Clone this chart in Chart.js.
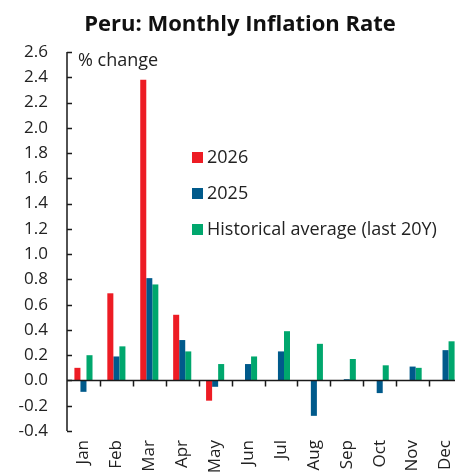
<!DOCTYPE html>
<html>
<head>
<meta charset="utf-8">
<script src="https://cdn.jsdelivr.net/npm/chart.js@4/dist/chart.umd.min.js"></script>
<style>
  html, body { margin: 0; padding: 0; background: #fff; overflow: hidden; }
  #wrap { width: 480px; height: 490px; }
</style>
</head>
<body>
<div id="wrap"><canvas id="inflChart" width="480" height="490"></canvas></div>
<script>
// data (% m/m)
var months = ['Jan', 'Feb', 'Mar', 'Apr', 'May', 'Jun', 'Jul', 'Aug', 'Sep', 'Oct', 'Nov', 'Dec'];
var infl2026 = [0.10, 0.69, 2.38, 0.52, -0.16, null, null, null, null, null, null, null];
var infl2025 = [-0.09, 0.19, 0.81, 0.32, -0.05, 0.13, 0.23, -0.28, 0.01, -0.10, 0.11, 0.24];
var histAvg = [0.20, 0.27, 0.76, 0.23, 0.13, 0.19, 0.39, 0.29, 0.17, 0.12, 0.10, 0.31];
var seriesNames = ['2026', '2025', 'Historical average (last 20Y)'];

var FONT = "'Open Sans', 'Noto Sans', sans-serif";
var TXT = '#222222';

// axis lines + inward ticks, zero line, legend and unit label
var decoPlugin = {
    id: 'deco',
    afterDatasetsDraw: function (chart) {
        var ctx = chart.ctx;
        var area = chart.chartArea;
        var y = chart.scales.y;
        var x = chart.scales.x;
        ctx.save();
        ctx.strokeStyle = '#1a1a1a';
        ctx.lineWidth = 1.5;

        // y axis line with ticks pointing into the plot
        ctx.beginPath();
        ctx.moveTo(area.left, y.getPixelForValue(y.max));
        ctx.lineTo(area.left, y.getPixelForValue(y.min));
        y.ticks.forEach(function (t) {
            var py = Math.round(y.getPixelForValue(t.value)) + 0.5;
            ctx.moveTo(area.left, py);
            ctx.lineTo(area.left + 5, py);
        });
        ctx.stroke();

        // zero line with category ticks pointing down
        var y0 = y.getPixelForValue(0);
        ctx.beginPath();
        ctx.moveTo(area.left, y0);
        ctx.lineTo(area.right, y0);
        for (var i = 0; i < months.length - 1; i++) {
            var bx = Math.round((x.getPixelForTick(i) + x.getPixelForTick(i + 1)) / 2) + 0.5;
            ctx.moveTo(bx, y0);
            ctx.lineTo(bx, y0 + 6);
        }
        ctx.stroke();

        // unit label
        ctx.fillStyle = TXT;
        ctx.font = '18px ' + FONT;
        ctx.textBaseline = 'middle';
        ctx.textAlign = 'left';
        ctx.fillText('% change', area.left + 11, 61);

        // legend
        chart.data.datasets.forEach(function (ds, k) {
            var ly = 157 + k * 36;
            ctx.fillStyle = ds.backgroundColor;
            ctx.fillRect(192, ly - 5, 11, 11);
            ctx.fillStyle = TXT;
            ctx.fillText(ds.label, 207, ly + 1);
        });
        ctx.restore();
    }
};

var chartCtx = document.getElementById('inflChart').getContext('2d');
var inflChart = new Chart(chartCtx, {
    type: 'bar',
    data: {
        labels: months,
        datasets: [
            { label: seriesNames[0], data: infl2026, backgroundColor: '#ED1C24' },
            { label: seriesNames[1], data: infl2025, backgroundColor: '#005A8B' },
            { label: seriesNames[2], data: histAvg, backgroundColor: '#00A76D' }
        ]
    },
    plugins: [decoPlugin],
    options: {
        responsive: false,
        animation: false,
        layout: { padding: { left: 18, right: 18, top: 0, bottom: 0 } },
        datasets: {
            bar: { categoryPercentage: 0.55, barPercentage: 1.0 }
        },
        plugins: {
            legend: { display: false },
            tooltip: { enabled: false },
            title: {
                display: true,
                text: 'Peru: Monthly Inflation Rate',
                color: '#111111',
                font: { family: FONT, size: 22, weight: 'bold', lineHeight: 1.2 },
                padding: { top: 12, bottom: 13.6 }
            }
        },
        scales: {
            x: {
                grid: { display: false, drawTicks: false },
                border: { display: false },
                ticks: {
                    color: TXT,
                    font: { family: FONT, size: 17 },
                    minRotation: 90,
                    maxRotation: 90,
                    autoSkip: false,
                    padding: 9
                },
                afterFit: function (scale) { scale.height = 59; }
            },
            y: {
                min: -0.4,
                max: 2.6,
                grid: { display: false, drawTicks: false },
                border: { display: false },
                ticks: {
                    stepSize: 0.2,
                    color: TXT,
                    font: { family: FONT, size: 17 },
                    padding: 19,
                    callback: function (v) { return Number(v).toFixed(1); }
                },
                afterFit: function (scale) { scale.width = 49; }
            }
        }
    }
});
</script>
</body>
</html>
